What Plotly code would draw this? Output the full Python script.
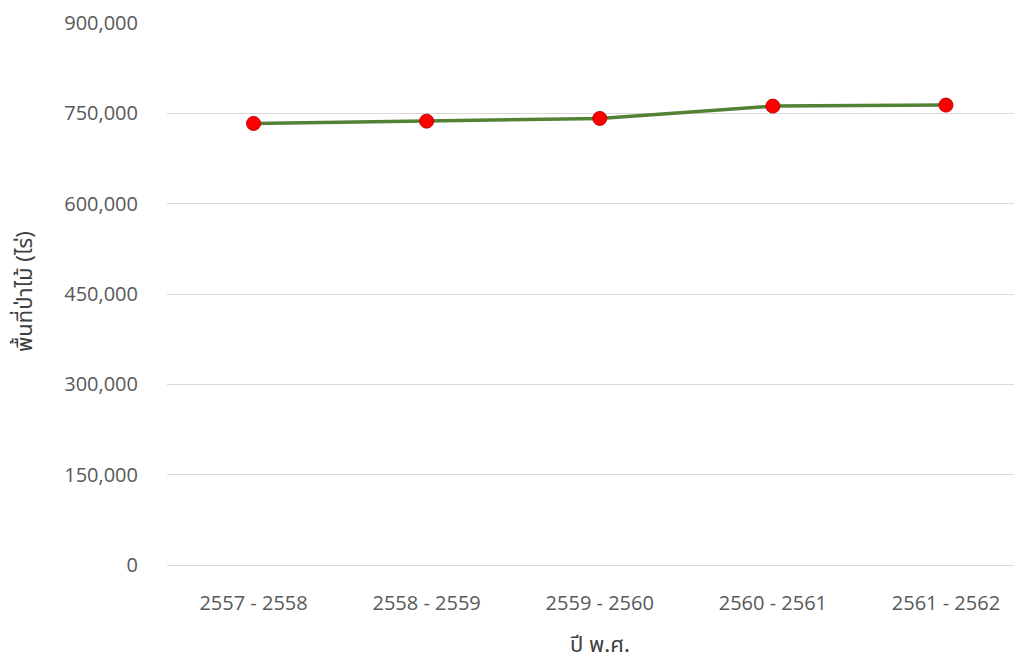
import plotly.graph_objects as go

categories = ["2557 - 2558", "2558 - 2559", "2559 - 2560", "2560 - 2561", "2561 - 2562"]
forest_area = [733200, 737000, 741500, 762000, 763700]
y_ticks = [0, 150000, 300000, 450000, 600000, 750000, 900000]
y_tick_text = ["0", "150,000", "300,000", "450,000", "600,000", "750,000", "900,000"]
x_title = "ปี พ.ศ."
y_title = "พื้นที่ป่าไม้ (ไร่)"

tick_font = dict(family="Open Sans, Noto Sans, sans-serif", size=20, color="#595959")
title_font = dict(family="Noto Sans Thai, Tahoma, Noto Sans, DejaVu Sans, sans-serif", size=22, color="#404040")

# page offset caused by the default 8px body margin
OFF = 8
W, H = 1014, 657
L, T = 167 - OFF, 23 - OFF
B = H - (565 - OFF)
R = 0

fig = go.Figure()
fig.add_trace(go.Scatter(
    x=list(range(len(categories))),
    y=forest_area,
    mode="lines+markers",
    line=dict(color="#548235", width=3.5),
    marker=dict(color="#FF0000", size=14, line=dict(color="#C00000", width=1)),
    showlegend=False,
    hoverinfo="skip",
))

plot_w = W - L - R
plot_h = H - T - B

fig.update_layout(
    width=W,
    height=H,
    margin=dict(l=L, r=R, t=T, b=B, autoexpand=False),
    plot_bgcolor="white",
    paper_bgcolor="white",
    xaxis=dict(
        range=[-0.5, -0.5 + plot_w / 173.1],
        tickmode="array",
        tickvals=list(range(len(categories))),
        ticktext=categories,
        showgrid=False,
        zeroline=False,
        showline=False,
        tickfont=tick_font,
        ticks="",
        ticklabelstandoff=24,
    ),
    yaxis=dict(
        range=[0, 900000],
        tickmode="array",
        tickvals=y_ticks,
        ticktext=y_tick_text,
        showgrid=True,
        gridcolor="#D9D9D9",
        gridwidth=1,
        zeroline=True,
        zerolinecolor="#D9D9D9",
        zerolinewidth=1,
        showline=False,
        tickfont=tick_font,
        ticks="",
        ticklabelstandoff=28,
    ),
    annotations=[
        dict(text=x_title, x=2, xref="x",
             y=(H - B - (645 - OFF)) / plot_h, yref="paper", showarrow=False,
             font=title_font, yanchor="middle"),
        dict(text=y_title, x=(25 - 167) / plot_w, xref="paper",
             y=(H - B - (292 - OFF)) / plot_h, yref="paper", showarrow=False,
             font=title_font, textangle=-90, xanchor="center", yanchor="middle"),
    ],
)

fig.write_html("out.html")
